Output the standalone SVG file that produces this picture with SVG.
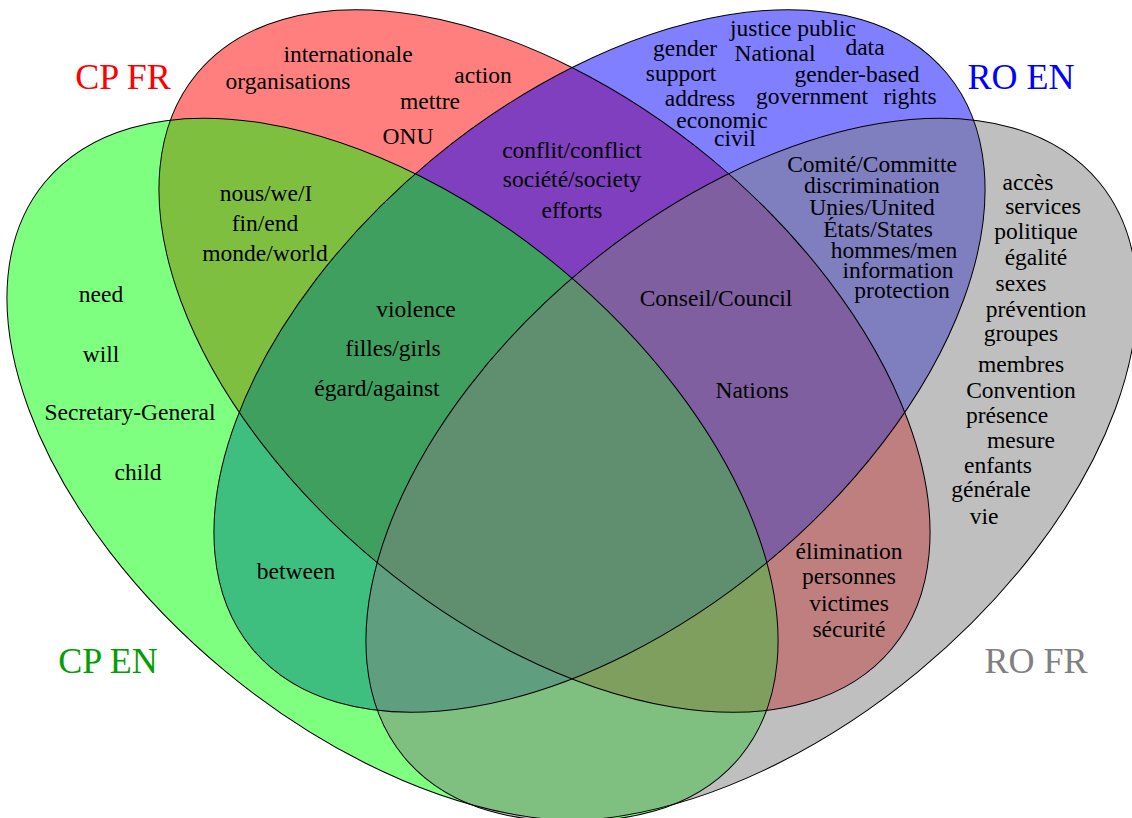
<svg xmlns="http://www.w3.org/2000/svg" xmlns:xlink="http://www.w3.org/1999/xlink" width="1132" height="818" viewBox="0 0 1132 818">
<style>
.fill{fill-opacity:0.5;stroke:none}
.outline{fill:none;stroke:#000;stroke-width:1}
text{font-family:"Liberation Serif","Times New Roman",serif;text-anchor:middle;fill:#000}
.w{font-size:23.5px}
.lab{font-size:36px}
</style>
<defs>
<ellipse id="e-red" cx="544.5" cy="361" rx="451" ry="262" transform="rotate(39.6 544.5 361)"/>
<ellipse id="e-blue" cx="599.5" cy="361" rx="451" ry="262" transform="rotate(-39.6 599.5 361)"/>
<ellipse id="e-green" cx="392.5" cy="469.5" rx="451" ry="262" transform="rotate(39.6 392.5 469.5)"/>
<ellipse id="e-gray" cx="751.5" cy="469.5" rx="451" ry="262" transform="rotate(-39.6 751.5 469.5)"/>
</defs>
<rect width="1132" height="818" fill="#fff"/>
<g id="set-cp-fr">
<use xlink:href="#e-red" class="fill" fill="#ff0000"/>
<text class="lab" x="123" y="89" fill="#ff0000" style="fill:#ff0000">CP FR</text>
</g>
<g id="set-ro-en">
<use xlink:href="#e-blue" class="fill" fill="#0000ff"/>
<text class="lab" x="1021" y="89" style="fill:#0000ff">RO EN</text>
</g>
<g id="set-cp-en">
<use xlink:href="#e-green" class="fill" fill="#00ff00"/>
<text class="lab" x="108" y="673" style="fill:#00a000">CP EN</text>
</g>
<g id="set-ro-fr">
<use xlink:href="#e-gray" class="fill" fill="#808080"/>
<text class="lab" x="1036" y="673" style="fill:#808080">RO FR</text>
</g>
<g id="connectors">
<use xlink:href="#e-red" class="outline"/>
<use xlink:href="#e-blue" class="outline"/>
<use xlink:href="#e-green" class="outline"/>
<use xlink:href="#e-gray" class="outline"/>
</g>
<g id="region-cp-fr" class="w">
<text x="348" y="62">internationale</text>
<text x="288" y="89">organisations</text>
<text x="483" y="83">action</text>
<text x="430" y="109">mettre</text>
<text x="408" y="144">ONU</text>
</g>
<g id="region-cp-fr-cp-en" class="w">
<text x="266" y="201">nous/we/I</text>
<text x="265" y="231">fin/end</text>
<text x="265" y="261">monde/world</text>
</g>
<g id="region-cp-en" class="w">
<text x="101" y="302">need</text>
<text x="101" y="362">will</text>
<text x="130" y="420">Secretary-General</text>
<text x="138" y="480">child</text>
</g>
<g id="region-cp-fr-cp-en-ro-en" class="w">
<text x="416" y="317">violence</text>
<text x="393" y="356">filles/girls</text>
<text x="377" y="396">égard/against</text>
</g>
<g id="region-cp-fr-ro-en" class="w">
<text x="572" y="158">conflit/conflict</text>
<text x="572" y="187">société/society</text>
<text x="572" y="218">efforts</text>
</g>
<g id="region-ro-en" class="w">
<text x="793" y="36">justice public</text>
<text x="685" y="56">gender</text>
<text x="775" y="61">National</text>
<text x="865" y="55">data</text>
<text x="681" y="81">support</text>
<text x="857" y="82">gender-based</text>
<text x="700" y="106">address</text>
<text x="812" y="104">government</text>
<text x="910" y="104">rights</text>
<text x="722" y="128">economic</text>
<text x="735" y="146">civil</text>
</g>
<g id="region-ro-en-ro-fr" class="w">
<text x="872" y="172">Comité/Committe</text>
<text x="872" y="193">discrimination</text>
<text x="872" y="215">Unies/United</text>
<text x="878" y="237">États/States</text>
<text x="894" y="258">hommes/men</text>
<text x="898" y="278">information</text>
<text x="902" y="298">protection</text>
</g>
<g id="region-cp-fr-ro-en-ro-fr" class="w">
<text x="716" y="306">Conseil/Council</text>
<text x="752" y="398">Nations</text>
</g>
<g id="region-ro-fr" class="w">
<text x="1028" y="190">accès</text>
<text x="1043" y="214">services</text>
<text x="1036" y="239">politique</text>
<text x="1036" y="265">égalité</text>
<text x="1021" y="291">sexes</text>
<text x="1036" y="317">prévention</text>
<text x="1021" y="341">groupes</text>
<text x="1021" y="372">membres</text>
<text x="1021" y="398">Convention</text>
<text x="1007" y="423">présence</text>
<text x="1021" y="448">mesure</text>
<text x="998" y="473">enfants</text>
<text x="991" y="497">générale</text>
<text x="984" y="524">vie</text>
</g>
<g id="region-cp-fr-ro-fr" class="w">
<text x="849" y="559">élimination</text>
<text x="849" y="584">personnes</text>
<text x="849" y="611">victimes</text>
<text x="849" y="637">sécurité</text>
</g>
<g id="region-cp-en-ro-en" class="w">
<text x="296" y="579">between</text>
</g>
</svg>
